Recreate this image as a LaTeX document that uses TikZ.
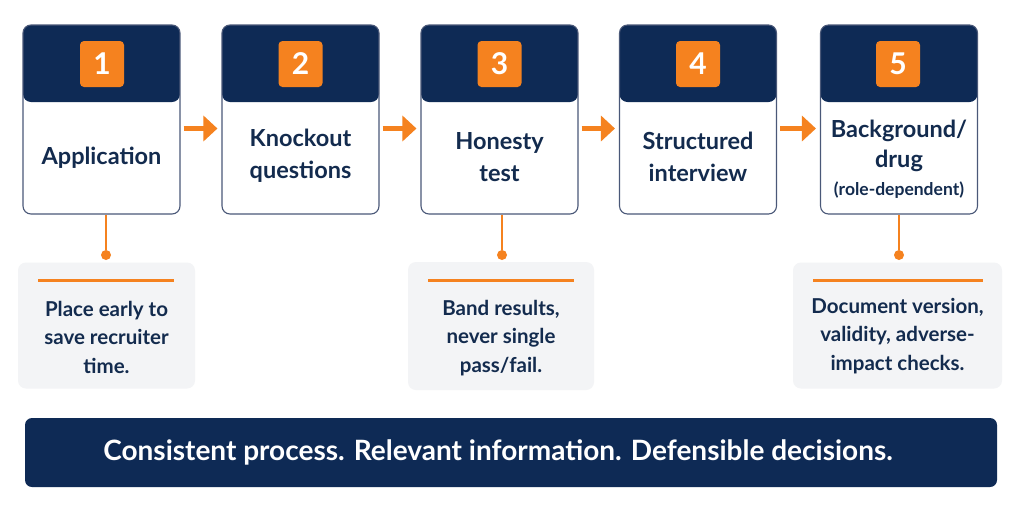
\documentclass[tikz,border=0pt]{standalone}
\usepackage{fontspec}
\setmainfont{Lato}
\usetikzlibrary{arrows.meta}
\definecolor{navy}{HTML}{0E2A55}
\definecolor{ink}{HTML}{132B4E}
\definecolor{orng}{HTML}{F5821F}
\definecolor{notebg}{HTML}{F3F4F6}
\definecolor{edge}{HTML}{4A5878}
\tikzset{
  stepbox/.style={draw=edge, line width=1.1pt, rounded corners=8pt, fill=white,
    minimum width=157pt, minimum height=189pt, inner sep=0pt,
    path picture={\fill[navy] ([yshift=1pt]path picture bounding box.north west) rectangle ([yshift=-77pt]path picture bounding box.north east);}},
  badge/.style={fill=orng, rounded corners=4pt, minimum width=44pt, minimum height=46pt,
    inner sep=0pt, text=white, font=\fontsize{30}{30}\selectfont\bfseries},
  steptext/.style={text=ink, align=center, font=\fontsize{23.5}{32}\selectfont\bfseries},
  notebox/.style={fill=notebg, rounded corners=8pt, inner sep=0pt},
  notetext/.style={text=ink, align=center, font=\fontsize{20.5}{28.5}\selectfont\bfseries},
  arr/.style={draw=orng, line width=5pt, -{Triangle[length=14pt,width=25pt]}},
  link/.style={draw=orng, line width=1.8pt},
  dot/.style={circle, fill=orng, minimum size=10pt, inner sep=0pt},
  oline/.style={draw=orng, line width=3pt},
  banner/.style={fill=navy, rounded corners=7pt, minimum width=972pt, minimum height=69pt, inner sep=0pt},
  bannertext/.style={text=white, font=\fontsize{28}{28}\selectfont\bfseries}
}
\begin{document}
\begin{tikzpicture}[x=1pt,y=-1pt]
\useasboundingbox (0,0) rectangle (1024,512);
\fill[white] (0,0) rectangle (1024,512);
% step boxes
\node[stepbox] (b1) at (101.5,119.5) {};
\node[stepbox] (b2) at (300.5,119.5) {};
\node[stepbox] (b3) at (499.5,119.5) {};
\node[stepbox] (b4) at (698,119.5) {};
\node[stepbox] (b5) at (899,119.5) {};
% badges
\node[badge] (n1) at (102,64) {1};
\node[badge] (n2) at (300.5,64) {2};
\node[badge] (n3) at (499.5,64) {3};
\node[badge] (n4) at (698,64) {4};
\node[badge] (n5) at (898,64) {5};
% texts
\node[steptext] (t1) at (101.5,158) {Application};
\node[steptext] (t2) at (300.5,156) {Knockout\\questions};
\node[steptext] (t3) at (499.5,157) {Honesty\\test};
\node[steptext] (t4) at (698,157) {Structured\\interview};
\node[steptext, font=\fontsize{23.5}{30}\selectfont\bfseries] (t5) at (899,146) {Background/\\drug};
\node[text=ink, font=\fontsize{17.5}{18}\selectfont\bfseries] (t5b) at (899,190) {(role-dependent)};
% arrows
\draw[arr] ([xshift=3pt,yshift=-9pt]b1.east) -- ([xshift=-4pt,yshift=-9pt]b2.west);
\draw[arr] ([xshift=3pt,yshift=-9pt]b2.east) -- ([xshift=-4pt,yshift=-9pt]b3.west);
\draw[arr] ([xshift=3pt,yshift=-9pt]b3.east) -- ([xshift=-4pt,yshift=-9pt]b4.west);
\draw[arr] ([xshift=3pt,yshift=-9pt]b4.east) -- ([xshift=-4pt,yshift=-9pt]b5.west);
% notes
\node[notebox, minimum width=177pt, minimum height=126pt] (m1) at (106.5,325.5) {};
\node[notebox, minimum width=186pt, minimum height=128pt] (m3) at (501,326) {};
\node[notebox, minimum width=209pt, minimum height=126pt] (m5) at (897.5,325.5) {};
\node[dot] (d1) at (106,255) {};
\node[dot] (d3) at (502,255) {};
\node[dot] (d5) at (899,255) {};
\draw[link] (b1.south -| d1) -- (d1);
\draw[link] (b3.south -| d3) -- (d3);
\draw[link] (b5.south -| d5) -- (d5);
\draw[oline] (38,280) -- (174,280);
\draw[oline] (428,280) -- (574,280);
\draw[oline] (813,280) -- (983,280);
\node[notetext] (x1) at (106.5,337) {Place early to\\save recruiter\\time.};
\node[notetext] (x3) at (501,338) {Band results,\\never single\\pass/fail.};
\node[notetext] (x5) at (897.5,336) {Document version,\\validity, adverse-\\impact checks.};
% banner
\node[banner] (bn) at (511,452.5) {};
\node[bannertext] (bt) at (498,452.5) {Consistent process. Relevant information. Defensible decisions.};
\end{tikzpicture}
\end{document}
